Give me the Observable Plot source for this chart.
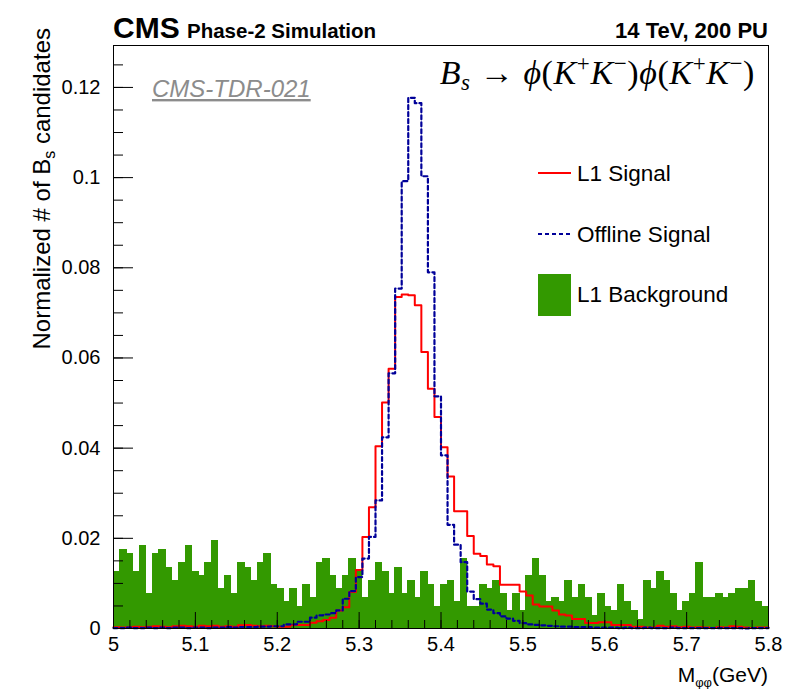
<!DOCTYPE html>
<html><head><meta charset="utf-8">
<script src="https://cdn.jsdelivr.net/npm/d3@7"></script>
<script src="https://cdn.jsdelivr.net/npm/@observablehq/plot@0.6"></script>
<style>body{margin:0;background:#fff;} svg{font-family:"Liberation Sans",Arial,sans-serif;}</style>
</head><body><div id="chart"></div>
<script>
// ---- data ----
const binStart = 5.0, binWidth = 0.008; // 100 bins from 5.0 to 5.8
const background = [
 0.0127,0.0176,0.0166,0.0127,0.0185,0.0078,0.0166,0.0176,0.0136,0.0107,
 0.0146,0.0185,0.0127,0.0117,0.0146,0.0195,0.0088,0.0117,0.0078,0.0146,
 0.0136,0.0107,0.0146,0.0166,0.0098,0.0088,0.0059,0.0088,0.0049,0.0098,
 0.0068,0.0146,0.0156,0.0117,0.0088,0.0117,0.0156,0.0127,0.0068,0.0107,
 0.0146,0.0127,0.0078,0.0136,0.0078,0.0107,0.0068,0.0127,0.0098,0.0049,
 0.0098,0.0107,0.0059,0.0156,0.0049,0.0049,0.0098,0.0088,0.0107,0.0078,
 0.0039,0.0078,0.0039,0.0117,0.0156,0.0117,0.0059,0.0068,0.0059,0.0107,
 0.0068,0.0098,0.0068,0.0029,0.0078,0.0049,0.0039,0.0098,0.0059,0.0039,
 0.0019,0.0107,0.0088,0.0127,0.0107,0.0078,0.0039,0.0059,0.0078,0.0146,
 0.0068,0.0068,0.0078,0.0068,0.0078,0.0088,0.0088,0.0107,0.0059,0.0049];
const l1Signal = [
 0.0003,0.0002,0.0003,0.0004,0.0003,0.0004,0.0005,0.0004,0.0003,0.0005,
 0.0006,0.0005,0.0004,0.0006,0.0005,0.0006,0.0004,0.0005,0.0004,0.0007,
 0.0008,0.0006,0.0005,0.0006,0.0005,0.0004,0.0004,0.0008,0.0008,0.0008,
 0.0013,0.0016,0.0019,0.0024,0.0040,0.0047,0.0081,0.0130,0.0203,0.0269,
 0.0404,0.0501,0.0576,0.0735,0.0741,0.0739,0.0717,0.0613,0.0532,0.0469,
 0.0402,0.0337,0.0260,0.0260,0.0205,0.0166,0.0161,0.0142,0.0138,0.0097,
 0.0097,0.0097,0.0082,0.0073,0.0053,0.0049,0.0049,0.0040,0.0031,0.0029,
 0.0021,0.0021,0.0012,0.0012,0.0014,0.0014,0.0008,0.0008,0.0008,0.0004,
 0.0004,0.0002,0.0002,0.0006,0.0004,0.0005,0.0003,0.0004,0.0002,0.0003,
 0.0002,0.0001,0.0003,0.0002,0.0005,0.0004,0.0002,0.0001,0.0002,0.0002];
const offlineSignal = [
 0.0001,0.0001,0.0002,0.0001,0.0001,0.0002,0.0001,0.0002,0.0001,0.0002,
 0.0002,0.0001,0.0002,0.0002,0.0001,0.0002,0.0002,0.0003,0.0002,0.0003,
 0.0003,0.0003,0.0004,0.0004,0.0005,0.0005,0.0009,0.0009,0.0015,0.0015,
 0.0024,0.0029,0.0031,0.0034,0.0040,0.0066,0.0083,0.0114,0.0155,0.0203,
 0.0284,0.0424,0.0566,0.0754,0.0992,0.1177,0.1165,0.1003,0.0790,0.0515,
 0.0384,0.0230,0.0186,0.0147,0.0082,0.0065,0.0055,0.0042,0.0034,0.0027,
 0.0022,0.0017,0.0012,0.0009,0.0008,0.0007,0.0006,0.0005,0.0004,0.0004,
 0.0003,0.0003,0.0003,0.0002,0.0002,0.0002,0.0002,0.0001,0.0002,0.0001,
 0.0001,0.0002,0.0001,0.0001,0.0001,0.0002,0.0001,0.0001,0.0001,0.0001,
 0.0001,0.0001,0.0001,0.0001,0.0001,0.0001,0.0000,0.0001,0.0001,0.0001];
const xTicks = [5, 5.1, 5.2, 5.3, 5.4, 5.5, 5.6, 5.7, 5.8];
const yTicks = [0, 0.02, 0.04, 0.06, 0.08, 0.1, 0.12];
const legendLabels = ["L1 Signal", "Offline Signal", "L1 Background"];

// ---- layout ----
const W = 809, H = 689, mL = 113, mR = 41, mT = 45, mB = 61;
const plotW = W - mL - mR, plotH = H - mT - mB;
const colors = {l1: "#ff0000", off: "#000099", bg: "#339900"};

const bins = background.map((v, i) => ({x1: binStart + i * binWidth, x2: binStart + (i + 1) * binWidth, v}));
function stepPoints(values) {
  const pts = [];
  values.forEach((v, i) => {
    pts.push({x: binStart + i * binWidth, y: v});
    pts.push({x: binStart + (i + 1) * binWidth, y: v});
  });
  return pts;
}
const xMinor = d3.range(0, 41).map(i => 5 + i * 0.02);
const yMinor = d3.range(0, 26).map(i => i * 0.005);

const svg = Plot.plot({
  width: W, height: H,
  marginLeft: mL, marginRight: mR, marginTop: mT, marginBottom: mB,
  x: {domain: [5, 5.8]},
  y: {domain: [0, 0.1293]},
  style: {fontFamily: "Liberation Sans, Arial, sans-serif", background: "white", color: "black"},
  marks: [
    Plot.rectY(bins, {x1: "x1", x2: "x2", y1: 0, y2: "v", fill: colors.bg, insetLeft: -0.5, insetRight: -0.5, shapeRendering: "crispEdges"}),
    Plot.line(stepPoints(l1Signal), {x: "x", y: "y", stroke: colors.l1, strokeWidth: 2}),
    Plot.line(stepPoints(offlineSignal), {x: "x", y: "y", stroke: colors.off, strokeWidth: 2.2, strokeDasharray: "4,3"}),
    Plot.tickY(yTicks, {y: d => d, insetRight: plotW - 20, stroke: "black"}),
    Plot.tickY(yMinor, {y: d => d, insetRight: plotW - 10, stroke: "black"}),
    Plot.tickX(xTicks, {x: d => d, insetTop: plotH - 16, stroke: "black"}),
    Plot.tickX(xMinor, {x: d => d, insetTop: plotH - 8, stroke: "black"}),
    Plot.frame({stroke: "black"}),
    Plot.axisX({ticks: xTicks, tickSize: 0, tickPadding: 8, fontSize: 20, tickFormat: d => String(d), label: null}),
    Plot.axisY({ticks: yTicks, tickSize: 0, tickPadding: 13, fontSize: 20, tickFormat: d => String(d), label: null})
  ]
});
document.getElementById("chart").appendChild(svg);

const s = d3.select(svg);
const serif = "Liberation Serif, Times New Roman, serif";
function txt(x, y, size, anchor) {
  return s.append("text").attr("x", x).attr("y", y).attr("font-size", size).attr("text-anchor", anchor || "start").attr("fill", "black");
}
// header
txt(113, 38, 30).attr("font-weight", "bold").text("CMS");
txt(187, 38, 20.5).attr("font-weight", "bold").text("Phase-2 Simulation");
txt(768, 38, 22, "end").attr("font-weight", "bold").text("14 TeV, 200 PU");
// tag
txt(152, 97, 24).attr("font-style", "italic").attr("fill", "#8c8c8c").attr("text-decoration", "underline").text("CMS-TDR-021");
// formula
const f = txt(755, 84, 34, "end").attr("font-family", serif).attr("letter-spacing", 0.6);
f.append("tspan").attr("font-style", "italic").text("B");
f.append("tspan").attr("font-style", "italic").attr("font-size", 23).attr("dy", 6).text("s");
f.append("tspan").attr("dy", -6).text(" \u2192 ");
function kk(g) {
  g.append("tspan").attr("font-style", "italic").text("\u03D5");
  g.append("tspan").text("(");
  g.append("tspan").attr("font-style", "italic").text("K");
  g.append("tspan").attr("font-size", 23).attr("dy", -13).text("+");
  g.append("tspan").attr("font-style", "italic").attr("dy", 13).text("K");
  g.append("tspan").attr("font-size", 23).attr("dy", -13).text("\u2212");
  g.append("tspan").attr("dy", 13).text(")");
}
kk(f); kk(f);
// legend
const lx0 = 538, lx1 = 571, tx = 577;
s.append("line").attr("x1", lx0).attr("x2", lx1).attr("y1", 173).attr("y2", 173).attr("stroke", colors.l1).attr("stroke-width", 2);
txt(tx, 181, 22.5).text(legendLabels[0]);
s.append("line").attr("x1", lx0).attr("x2", lx1).attr("y1", 234).attr("y2", 234).attr("stroke", colors.off).attr("stroke-width", 2).attr("stroke-dasharray", "4,3");
txt(tx, 242, 22.5).text(legendLabels[1]);
s.append("rect").attr("x", lx0).attr("y", 274).attr("width", lx1 - lx0).attr("height", 42).attr("fill", colors.bg);
txt(tx, 302, 22.5).text(legendLabels[2]);
// axis titles
const yl = s.append("text").attr("transform", "translate(50,28) rotate(-90)").attr("text-anchor", "end").attr("font-size", 24).attr("fill", "black");
yl.append("tspan").text("Normalized # of B");
yl.append("tspan").attr("font-size", 16).attr("dy", 5).text("s");
yl.append("tspan").attr("dy", -5).text(" candidates");
const xl = txt(768, 682, 21, "end");
xl.append("tspan").text("M");
xl.append("tspan").attr("font-size", 13).attr("dy", 5).text("\u03C6\u03C6");
xl.append("tspan").attr("dy", -5).text("(GeV)");
</script>
</body></html>
